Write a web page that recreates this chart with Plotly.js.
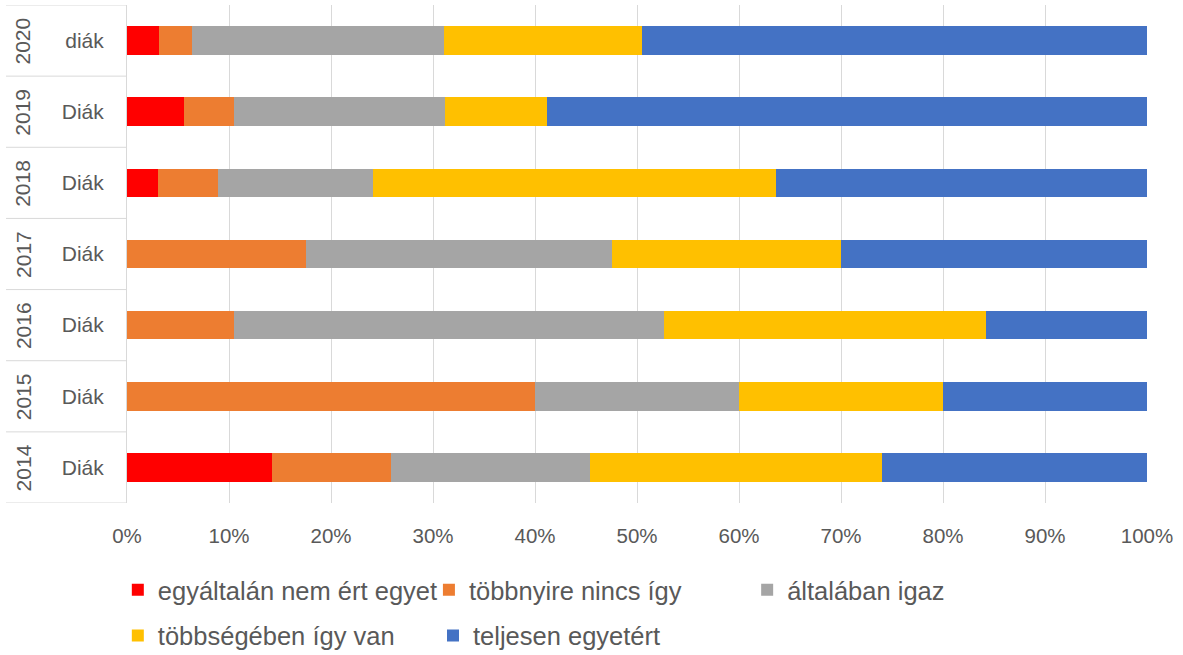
<!DOCTYPE html>
<html>
<head>
<meta charset="utf-8">
<script src="https://cdn.plot.ly/plotly-3.0.1.min.js"></script>
<style>html,body{margin:0;padding:0;background:#fff;}#chart{width:1183px;height:655px;}</style>
</head>
<body>
<div id="chart"></div>
<script>
// Categories (bottom to top)
var years = ['2014', '2015', '2016', '2017', '2018', '2019', '2020'];
var groupLabels = ['Diák', 'Diák', 'Diák', 'Diák', 'Diák', 'Diák', 'diák'];

// Series names
var seriesNames = ['egyáltalán nem ért egyet', 'többnyire nincs így', 'általában igaz', 'többségében így van', 'teljesen egyetért'];

// Shares (%) per year, same order as years
var egyaltalanNem = [14.2, 0, 0, 0, 3.0, 5.6, 3.1];
var tobbnyireNincs = [11.7, 40, 10.5, 17.5, 5.9, 4.9, 3.3];
var altalabanIgaz = [19.5, 20, 42.1, 30, 15.2, 20.7, 24.7];
var tobbsegebenIgy = [28.6, 20, 31.6, 22.5, 39.5, 10.0, 19.4];
var teljesenEgyetert = [26.0, 20, 15.8, 30, 36.4, 58.8, 49.5];

var xTickVals = [0, 0.1, 0.2, 0.3, 0.4, 0.5, 0.6, 0.7, 0.8, 0.9, 1.0];

var colors = ['#FF0000', '#ED7D31', '#A5A5A5', '#FFC000', '#4472C4'];
var seriesValues = [egyaltalanNem, tobbnyireNincs, altalabanIgaz, tobbsegebenIgy, teljesenEgyetert];
var legendIds = ['legend', 'legend2', 'legend3', 'legend4', 'legend5'];

var textColor = '#595959';
var fontFam = '"Liberation Sans", Arial, sans-serif';

var traces = seriesValues.map(function (vals, i) {
  return {
    type: 'bar',
    orientation: 'h',
    name: seriesNames[i],
    y: years,
    x: vals.map(function (v) { return v / 100; }),
    marker: { color: colors[i], line: { width: 0 } },
    legend: legendIds[i],
    hoverinfo: 'name+x'
  };
});

// Divider lines of the category axis
var shapes = [];
for (var i = 0; i <= years.length; i++) {
  shapes.push({
    type: 'line', xref: 'paper', yref: 'y',
    x0: -0.1186, x1: 0, y0: i - 0.5, y1: i - 0.5,
    line: { color: '#D9D9D9', width: 1 }
  });
}

// Outer category level (years), rotated; y uses category index
var annotations = years.map(function (yr, idx) {
  return {
    xref: 'paper', yref: 'y', x: -0.102, y: idx,
    text: yr, showarrow: false, textangle: -90,
    xanchor: 'center', yanchor: 'middle',
    font: { family: fontFam, size: 21, color: textColor }
  };
});

function legendAt(xp, yp) {
  return {
    orientation: 'h', x: xp, xanchor: 'left', y: yp, yanchor: 'middle',
    font: { family: fontFam, size: 25.5, color: textColor },
    bgcolor: 'rgba(0,0,0,0)'
  };
}

var layout = {
  width: 1183, height: 655,
  margin: { l: 127, r: 36, t: 5, b: 152, autoexpand: false },
  paper_bgcolor: '#ffffff', plot_bgcolor: '#ffffff',
  barmode: 'stack',
  bargap: 0.6,
  font: { family: fontFam, color: textColor },
  xaxis: {
    range: [0, 1],
    tickvals: xTickVals,
    tickformat: '.0%',
    showgrid: true, gridcolor: '#D9D9D9', gridwidth: 1,
    zeroline: false, showline: false,
    ticks: '', ticklabelstandoff: 18,
    tickfont: { family: fontFam, size: 20.5, color: textColor },
    fixedrange: true
  },
  yaxis: {
    type: 'category',
    categoryorder: 'array', categoryarray: years,
    tickvals: years, ticktext: groupLabels,
    showgrid: false, zeroline: false,
    showline: true, linecolor: '#D9D9D9', linewidth: 1,
    ticks: '', ticklabelstandoff: 18,
    tickfont: { family: fontFam, size: 21, color: textColor },
    range: [-0.5, 6.5],
    fixedrange: true
  },
  shapes: shapes,
  annotations: annotations,
  showlegend: true,
  legend: legendAt(-0.009, -0.175),
  legend2: legendAt(0.296, -0.175),
  legend3: legendAt(0.608, -0.175),
  legend4: legendAt(-0.009, -0.267),
  legend5: legendAt(0.300, -0.267)
};

Plotly.newPlot('chart', traces, layout, { displayModeBar: false, staticPlot: true });
</script>
</body>
</html>
